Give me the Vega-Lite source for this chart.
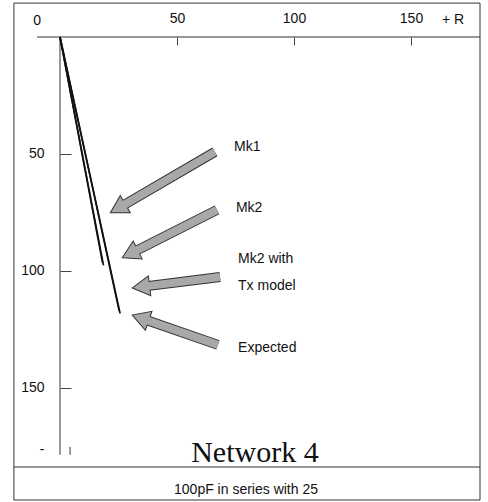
{
  "$schema": "https://vega.github.io/schema/vega-lite/v6.json",
  "width": 420,
  "height": 430,
  "autosize": {"type": "none"},
  "padding": {"left": 60, "top": 37, "right": 8, "bottom": 35},
  "background": "white",
  "config": {"view": {"stroke": null}, "font": "Liberation Sans"},
  "datasets": {
    "curves": [
      {"series": "Mk1", "x": 0, "y": 0},
      {"series": "Mk1", "x": 18.2, "y": 96.6},
      {"series": "Mk2", "x": 0, "y": 0},
      {"series": "Mk2", "x": 18.6, "y": 97.6},
      {"series": "Mk2 with Tx model", "x": 0, "y": 0},
      {"series": "Mk2 with Tx model", "x": 25.3, "y": 117.2},
      {"series": "Expected", "x": 0, "y": 0},
      {"series": "Expected", "x": 25.7, "y": 118.2}
    ],
    "arrows": [
      {"target": "Mk1", "tx": 66.2, "ty": 49.1, "x": 24.7, "y": 73.3},
      {"target": "Mk2", "tx": 67.1, "ty": 73.9, "x": 29.9, "y": 92.7},
      {"target": "Mk2 with Tx model", "tx": 68.4, "ty": 102.6, "x": 34.6, "y": 106.8},
      {"target": "Expected", "tx": 67.5, "ty": 131.6, "x": 34.4, "y": 120.1}
    ],
    "frameRules": [
      {"part": "top axis line", "x": -9.8, "x2": 179.5, "y": 0, "y2": 0},
      {"part": "left axis line", "x": 0, "x2": 0, "y": 0, "y2": 178.6},
      {"part": "divider", "x": -19.7, "x2": 179.5, "y": 183.8, "y2": 183.8},
      {"part": "stub tick", "x": 4.3, "x2": 4.3, "y": 175.2, "y2": 178.6}
    ],
    "frameBox": [
      {"part": "border", "x": -19.7, "x2": 179.5, "y": -14.5, "y2": 197.9}
    ],
    "notes": [
      {"role": "label", "text": "Mk1", "x": 74.4, "y": 47.0},
      {"role": "label", "text": "Mk2", "x": 75.2, "y": 73.1},
      {"role": "label", "text": "Mk2 with", "x": 76.1, "y": 94.9},
      {"role": "label", "text": "Tx model", "x": 76.1, "y": 106.4},
      {"role": "label", "text": "Expected", "x": 76.1, "y": 132.9},
      {"role": "axis", "text": "0", "x": -9.8, "y": -6.8},
      {"role": "axis", "text": "+ R", "x": 168, "y": -7.3},
      {"role": "axis", "text": "-", "x": -7.7, "y": 176.5},
      {"role": "title", "text": "Network 4", "x": 83.3, "y": 181.6},
      {"role": "caption", "text": "100pF in series with 25", "x": 79.5, "y": 195.3}
    ]
  },
  "encoding": {
    "x": {
      "field": "x",
      "type": "quantitative",
      "scale": {"domain": [0, 179.5], "nice": false, "zero": false},
      "axis": {
        "orient": "top",
        "values": [50, 100, 150],
        "domain": false,
        "grid": false,
        "tickSize": -8,
        "tickColor": "#444",
        "tickWidth": 1,
        "labelPadding": 20,
        "labelFontSize": 14,
        "labelColor": "#111",
        "labelFont": "Liberation Sans",
        "title": null
      }
    },
    "y": {
      "field": "y",
      "type": "quantitative",
      "scale": {"domain": [0, 183.8], "nice": false, "zero": false, "reverse": true},
      "axis": {
        "orient": "left",
        "values": [50, 100, 150],
        "domain": false,
        "grid": false,
        "tickSize": -11,
        "tickColor": "#444",
        "tickWidth": 1,
        "labelPadding": 27,
        "labelFontSize": 14,
        "labelColor": "#111",
        "labelFont": "Liberation Sans",
        "title": null
      }
    }
  },
  "layer": [
    {
      "data": {"name": "frameBox"},
      "mark": {"type": "rect", "fill": null, "fillOpacity": 0, "stroke": "#333", "strokeWidth": 1},
      "encoding": {"x2": {"field": "x2"}, "y2": {"field": "y2"}}
    },
    {
      "data": {"name": "frameRules"},
      "mark": {"type": "rule", "color": "#333", "strokeWidth": 1},
      "encoding": {"x2": {"field": "x2"}, "y2": {"field": "y2"}}
    },
    {
      "data": {"name": "curves"},
      "mark": {"type": "line", "color": "#111", "strokeWidth": 1.6},
      "encoding": {"detail": {"field": "series"}}
    },
    {
      "data": {"name": "arrows"},
      "mark": {"type": "rule", "color": "#333", "strokeWidth": 10, "strokeCap": "butt"},
      "encoding": {"x2": {"field": "tx"}, "y2": {"field": "ty"}}
    },
    {
      "data": {"name": "arrows"},
      "transform": [
        {"calculate": "atan2(datum.y - datum.ty, datum.x - datum.tx) * 180 / PI", "as": "heading"}
      ],
      "mark": {"type": "point", "shape": "triangle-right", "filled": true, "fill": "#a8a8a8", "stroke": "#333", "strokeWidth": 1, "size": 400, "opacity": 1, "fillOpacity": 1},
      "encoding": {"angle": {"field": "heading", "type": "quantitative", "scale": null}}
    },
    {
      "data": {"name": "arrows"},
      "mark": {"type": "rule", "color": "#a8a8a8", "strokeWidth": 8, "strokeCap": "butt"},
      "encoding": {"x2": {"field": "tx"}, "y2": {"field": "ty"}}
    },
    {
      "data": {"name": "notes"},
      "transform": [{"filter": "datum.role === 'label'"}],
      "mark": {"type": "text", "align": "left", "baseline": "middle", "fontSize": 14, "font": "Liberation Sans", "color": "#111"},
      "encoding": {"text": {"field": "text"}}
    },
    {
      "data": {"name": "notes"},
      "transform": [{"filter": "datum.role === 'axis'"}],
      "mark": {"type": "text", "align": "center", "baseline": "middle", "fontSize": 14, "font": "Liberation Sans", "color": "#111"},
      "encoding": {"text": {"field": "text"}}
    },
    {
      "data": {"name": "notes"},
      "transform": [{"filter": "datum.role === 'title'"}],
      "mark": {"type": "text", "align": "center", "baseline": "alphabetic", "fontSize": 30, "font": "Liberation Serif", "color": "#111"},
      "encoding": {"text": {"field": "text"}}
    },
    {
      "data": {"name": "notes"},
      "transform": [{"filter": "datum.role === 'caption'"}],
      "mark": {"type": "text", "align": "center", "baseline": "alphabetic", "fontSize": 14, "font": "Liberation Sans", "color": "#111"},
      "encoding": {"text": {"field": "text"}}
    }
  ]
}
